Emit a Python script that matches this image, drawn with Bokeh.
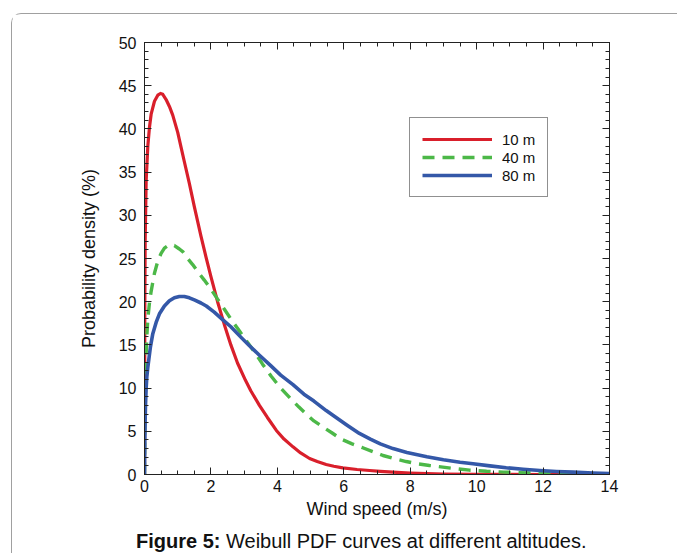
from bokeh.plotting import figure
from bokeh.layouts import column
from bokeh.models import (LinearAxis, SingleIntervalTicker, Range1d, Legend,
                          LegendItem, Div, CustomLabelingPolicy)
from bokeh.embed import file_html
from bokeh.resources import INLINE

# ---- data ----
x_10m = [0, 0.01, 0.02, 0.05, 0.1, 0.15, 0.2, 0.3, 0.4, 0.48, 0.55, 0.65, 0.75,
         0.85, 1.0, 1.1, 1.2, 1.35, 1.5, 1.6, 1.7, 1.85, 2.0, 2.2, 2.4, 2.6,
         2.8, 3.04, 3.2, 3.46, 3.7, 3.97, 4.2, 4.47, 4.7, 4.97, 5.2, 5.47, 5.7,
         5.97, 6.4, 6.78, 7.1, 7.47, 8.0, 8.5, 9.0, 10.0, 11.0, 12.0, 14.0]
y_10m = [0, 20, 27, 34, 38, 40.2, 41.7, 43.2, 43.9, 44.1, 44.0, 43.4, 42.6,
         41.6, 39.6, 37.9, 36.2, 33.7, 31.0, 29.3, 27.6, 25.2, 22.9, 20.0, 17.4,
         15.0, 12.9, 10.9, 9.7, 8.0, 6.6, 5.1, 4.1, 3.2, 2.5, 1.85, 1.5, 1.16,
         0.95, 0.77, 0.58, 0.46, 0.36, 0.27, 0.17, 0.1, 0.06, 0.02, 0.01, 0, 0]

x_40m = [0, 0.005, 0.01, 0.02, 0.03, 0.05, 0.075, 0.1, 0.15, 0.2, 0.3, 0.4,
         0.5, 0.6, 0.75, 0.9, 1.05, 1.15, 1.3, 1.45, 1.6, 1.8, 2.01, 2.2, 2.41,
         2.6, 2.86, 3.1, 3.31, 3.55, 3.81, 4.1, 4.42, 4.65, 4.87, 5.1, 5.37,
         5.65, 5.92, 6.25, 6.57, 6.9, 7.18, 7.5, 7.88, 8.2, 8.58, 9.24, 9.79,
         10.3, 10.8, 11.8, 13.0, 14.0]
y_40m = [0, 4, 7, 9.5, 11, 14.0, 16.3, 18.0, 19.9, 21.2, 23.3, 24.7,
         25.6, 26.2, 26.6, 26.5, 26.1, 25.8, 25.0, 24.3, 23.5, 22.5, 21.4, 20.3,
         19.1, 18.0, 16.6, 15.3, 14.2, 12.8, 11.4, 10.0, 8.7, 7.8, 7.0, 6.2,
         5.5, 4.8, 4.1, 3.55, 3.1, 2.6, 2.2, 1.85, 1.5, 1.25, 1.04, 0.73, 0.5,
         0.38, 0.28, 0.15, 0.05, 0.02]

x_80m = [0, 0.005, 0.01, 0.02, 0.03, 0.05, 0.07, 0.1, 0.13, 0.18, 0.25, 0.35,
         0.45, 0.6, 0.75, 0.9, 1.05, 1.2, 1.35, 1.5, 1.7, 1.86, 2.1, 2.36, 2.6,
         2.9, 3.16, 3.46, 3.8, 4.1, 4.47, 4.8, 5.1, 5.47, 5.8, 6.1, 6.47, 6.8,
         7.1, 7.48, 7.9, 8.5, 9.0, 9.5, 9.89, 10.4, 10.89, 11.4, 11.9, 12.4,
         12.9, 13.5, 14.0]
y_80m = [0, 2.5, 4, 6.3, 8.0, 10.0, 11.3, 12.4, 13.3, 14.8, 16.3, 17.6,
         18.6, 19.5, 20.1, 20.45, 20.6, 20.6, 20.45, 20.2, 19.85, 19.5, 18.8,
         17.9, 17.1, 15.9, 14.9, 13.8, 12.6, 11.5, 10.4, 9.3, 8.5, 7.4, 6.5,
         5.7, 4.75, 4.1, 3.55, 3.0, 2.55, 2.05, 1.7, 1.42, 1.25, 1.0, 0.78,
         0.6, 0.46, 0.35, 0.27, 0.18, 0.12]

series_labels = ["10 m", "40 m", "80 m"]
x_title = "Wind speed (m/s)"
y_title = "Probability density (%)"
caption_bold = "Figure 5:"
caption_text = "Weibull PDF curves at different altitudes."

FONT = "Liberation Sans"
INK = "#111111"
CANVAS_W = 665

p = figure(frame_width=465, frame_height=432,
           x_range=Range1d(0, 14), y_range=Range1d(0, 50),
           output_backend="svg", toolbar_location=None,
           min_border_left=132, min_border_right=CANVAS_W - 132 - 465,
           min_border_top=28, min_border_bottom=55,
           x_axis_type=None, y_axis_type=None)
p.grid.visible = False
p.outline_line_color = "#222222"
p.outline_line_width = 1
p.background_fill_color = "white"
p.border_fill_color = "white"
p.margin = 0

no_labels = CustomLabelingPolicy(code="""
try { for (let i = 0; i < indices.size; i++) { indices.unset(i) } } catch (e) {}
return indices
""")


def make_axis(interval, minor, show_labels, label=None):
    ax = LinearAxis(ticker=SingleIntervalTicker(interval=interval,
                                                num_minor_ticks=minor))
    ax.axis_line_color = "#222222"
    ax.axis_line_width = 1
    ax.major_tick_in = 7
    ax.major_tick_out = 0
    ax.minor_tick_in = 4
    ax.minor_tick_out = 0
    ax.major_tick_line_color = "#222222"
    ax.minor_tick_line_color = "#222222"
    ax.major_label_text_font = FONT
    ax.major_label_text_color = INK
    if show_labels:
        ax.major_label_text_font_size = "16px"
    else:
        ax.major_label_policy = no_labels
        ax.major_label_text_font_size = "1px"
        ax.major_label_standoff = 0
    if label:
        ax.axis_label = label
        ax.axis_label_text_font = FONT
        ax.axis_label_text_font_size = "18px"
        ax.axis_label_text_font_style = "normal"
        ax.axis_label_text_color = INK
    return ax


xb = make_axis(2, 4, True, x_title)
xb.major_label_standoff = 5
xb.axis_label_standoff = 4
p.add_layout(xb, "below")
yl = make_axis(5, 5, True, y_title)
yl.major_label_standoff = 8
yl.axis_label_standoff = 17
p.add_layout(yl, "left")
p.add_layout(make_axis(2, 4, False), "above")
p.add_layout(make_axis(5, 5, False), "right")

r1 = p.line(x_10m, y_10m, line_color="#d91f2b", line_width=3.2,
            line_join="round")
r2 = p.line(x_40m, y_40m, line_color="#4cb848", line_width=3.4,
            line_dash="12 8")
r3 = p.line(x_80m, y_80m, line_color="#3458a8", line_width=3.6,
            line_join="round")

legend = Legend(items=[LegendItem(label=series_labels[0], renderers=[r1]),
                       LegendItem(label=series_labels[1], renderers=[r2]),
                       LegendItem(label=series_labels[2], renderers=[r3])],
                location=(265, 277))
legend.border_line_color = "#222222"
legend.border_line_width = 1
legend.background_fill_color = "white"
legend.background_fill_alpha = 1
legend.label_text_font = FONT
legend.label_text_font_size = "15px"
legend.label_text_color = INK
legend.glyph_width = 70
legend.glyph_height = 18
legend.label_height = 18
legend.label_standoff = 10
legend.padding = 12
legend.spacing = 0
legend.margin = 0
p.add_layout(legend)

caption = Div(text="<b>%s</b> %s" % (caption_bold, caption_text),
              width=CANVAS_W, height=24, margin=0,
              styles={"font-family": FONT, "font-size": "20px",
                      "line-height": "24px", "color": INK,
                      "padding-left": "124px", "box-sizing": "border-box",
                      "white-space": "nowrap"})

page = column(p, caption, spacing=0)
page.margin = 0
page.styles = {"margin-left": "11px", "margin-top": "13px",
               "border-top": "1px solid #a0a0a0",
               "border-left": "1px solid #a0a0a0",
               "border-top-left-radius": "10px"}

open("out.html", "w").write(file_html(page, INLINE))
